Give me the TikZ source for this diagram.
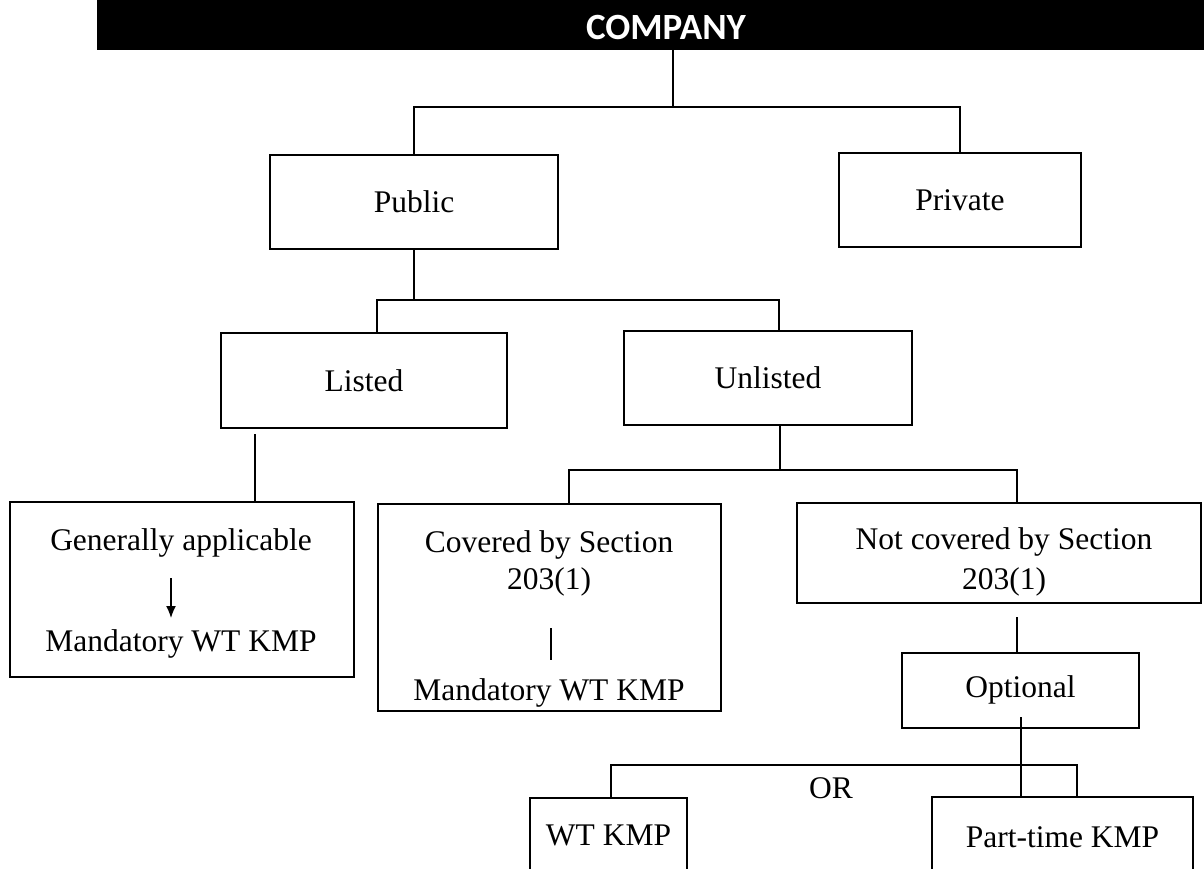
\documentclass[tikz,border=0pt]{standalone}
\usepackage{fontspec}
\setmainfont{Liberation Serif}
\newfontfamily\headfont{Carlito}
\usetikzlibrary{arrows.meta,positioning}

\begin{document}
\begin{tikzpicture}[
    x=1pt, y=-1pt,
    font=\fontsize{31.5}{38}\selectfont,
    box/.style={draw, line width=1.7pt, inner sep=0pt, anchor=north, align=center},
    txt/.style={inner sep=0pt, anchor=base},
    headbar/.style={fill=black, inner sep=0pt, text=white, text height=40pt, text depth=10pt,
      font=\headfont\bfseries\fontsize{37}{40}\selectfont},
    link/.style={line width=1.7pt},
    arrow/.style={-{Latex[length=12pt,width=10pt]}, line width=1.4pt}
  ]
    \clip (0,0) rectangle (1204,869);

    % heading bar
    \node[headbar, minimum width=1138pt] (company) at (666,25) {COMPANY};

    % first two levels
    \node[box, minimum width=288pt, minimum height=94pt] (public) at (414,154) {Public};
    \node[box, minimum width=242pt, minimum height=94pt] (private) at (960,152) {Private};
    \node[box, minimum width=286pt, minimum height=95pt] (listed) at (364,332) {Listed};
    \node[box, minimum width=288pt, minimum height=94pt] (unlisted) at (768,330) {Unlisted};

    % third level
    \node[box, minimum width=344pt, minimum height=175pt] (general) at (182,501) {};
    \node[txt] (gentop) at (181,550) {Generally applicable};
    \node[txt] (genbot) at (181,651) {Mandatory WT KMP};

    \node[box, minimum width=343pt, minimum height=207pt] (covered) at (549.5,503) {};
    \node[txt] (covtop) at (549,552) {Covered by Section};
    \node[txt] (covsec) at (549,589) {203(1)};
    \node[txt] (covbot) at (549,700) {Mandatory WT KMP};

    \node[box, minimum width=404pt, minimum height=100pt] (notcov) at (999,502) {};
    \node[txt] (nctop) at (1004,549) {Not covered by Section};
    \node[txt] (ncsec) at (1004,589) {203(1)};

    % optional branch
    \node[box, minimum width=237pt, minimum height=75pt] (optional) at (1020.5,652) {Optional};
    \node[box, minimum width=157pt, minimum height=76pt] (wtkmp) at (608.5,797) {WT KMP};
    \node[box, minimum width=261pt, minimum height=80pt] (parttime) at (1062.5,796) {Part-time KMP};
    \node[txt] (orlabel) at (831,798) {OR};

    % junction points
    \coordinate (cj) at (673,107);
    \coordinate (pj) at (414,300);
    \coordinate (ldrop) at (377,300);
    \coordinate (udrop) at (779,300);
    \coordinate (lg) at (255,434);
    \coordinate (uj) at (780,470);
    \coordinate (cdrop) at (569,470);
    \coordinate (ndrop) at (1017,470);
    \coordinate (no) at (1017,617);
    \coordinate (oj) at (1021,717);
    \coordinate (wdrop) at (611,765);
    \coordinate (pdrop) at (1077,765);
    \coordinate (ga1) at (171,578);
    \coordinate (ga2) at (171,618);
    \coordinate (cb1) at (551,628);
    \coordinate (cb2) at (551,660);

    \draw[link] (cj |- company.south) -- (cj);
    \draw[link] (public.north) |- (cj) -| (private.north);
    \draw[link] (public.south) -- (pj);
    \draw[link] (ldrop |- listed.north) |- (udrop) -- (udrop |- unlisted.north);
    \draw[link] (lg) -- (lg |- general.north);
    \draw[link] (uj |- unlisted.south) -- (uj);
    \draw[link] (cdrop |- covered.north) |- (ndrop) -- (ndrop |- notcov.north);
    \draw[link] (no) -- (no |- optional.north);
    \draw[link] (oj) -- (oj |- parttime.north);
    \draw[link] (wdrop |- wtkmp.north) |- (pdrop) -- (pdrop |- parttime.north);
    \draw[arrow] (ga1) -- (ga2);
    \draw[link] (cb1) -- (cb2);
  \end{tikzpicture}
\end{document}
